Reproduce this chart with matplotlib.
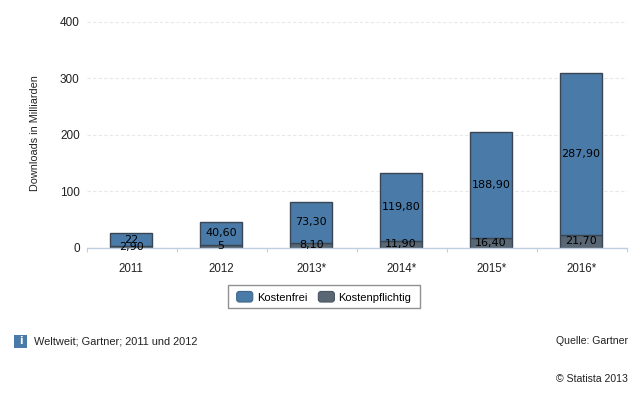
import numpy as np
import matplotlib
matplotlib.use("Agg")
import matplotlib.pyplot as plt
from matplotlib.legend_handler import HandlerPatch
from matplotlib.patches import FancyBboxPatch, Patch, Rectangle

years = ["2011", "2012", "2013*", "2014*", "2015*", "2016*"]
kostenfrei = [22, 40.6, 73.3, 119.8, 188.9, 287.9]
kostenpflichtig = [2.9, 5, 8.1, 11.9, 16.4, 21.7]
free_labels = ["22", "40,60", "73,30", "119,80", "188,90", "287,90"]
paid_labels = ["2,90", "5", "8,10", "11,90", "16,40", "21,70"]
y_ticks = [0, 100, 200, 300, 400]

W, H = 640, 400
TEXT = "#222222"
BLUE = "#4a7aa7"
GREY = "#596673"
plt.rcParams["font.family"] = ["Liberation Sans", "DejaVu Sans"]
plt.rcParams["font.size"] = 8


class RoundedHandle(HandlerPatch):
    """Legend swatch with rounded corners."""

    def create_artists(self, legend, orig_handle, xdescent, ydescent, width, height, fontsize, trans):
        box = FancyBboxPatch((-xdescent + 1, -ydescent + 1), width - 2, height - 2,
                             boxstyle="round,pad=1,rounding_size=2",
                             facecolor=orig_handle.get_facecolor(),
                             edgecolor=orig_handle.get_edgecolor(), linewidth=0.8)
        box.set_transform(trans)
        return [box]


fig = plt.figure(figsize=(W / 100, H / 100), dpi=100, facecolor="white")
ax = fig.add_axes([87 / W, 1 - 247.5 / H, 540 / W, 226 / H])

x = np.arange(len(years))
edge = "#3a4654"
paid = ax.bar(x, kostenpflichtig, width=0.466, color=GREY, edgecolor=edge, linewidth=1, zorder=3)
free = ax.bar(x, kostenfrei, width=0.466, bottom=kostenpflichtig, color=BLUE,
              edgecolor=edge, linewidth=1, zorder=3)

# labels sit in the segment centre, small segments overlap on purpose
for bars, labels in ((free, free_labels), (paid, paid_labels)):
    ax.bar_label(bars, labels=labels, label_type="center", family="DejaVu Sans",
                 fontsize=8, color="black", zorder=5)

# bars sit about a pixel left of the cell centre in the original
ax.set_xlim(-0.49, 5.51)
ax.set_ylim(0, 400)
ax.set_xticks(x)
ax.set_xticklabels(years, color=TEXT, fontsize=8.3)
ax.set_xticks(np.arange(-0.49, 6, 1), minor=True)
ax.tick_params(axis="x", which="major", length=0, pad=11.5)
ax.tick_params(axis="x", which="minor", length=3, width=0.8, color="#c0d0e0")
ax.set_yticks(y_ticks)
ax.tick_params(axis="y", length=0, pad=5.2, labelcolor=TEXT, labelsize=8.5)
ax.grid(axis="y", color="#e8e8e8", linewidth=0.8, linestyle=(0, (3, 2)), zorder=0)
ax.set_axisbelow(True)
ax.set_ylabel("Downloads in Milliarden", color=TEXT, fontsize=7.8)
ax.yaxis.set_label_coords((40 - 87) / 540, (247.5 - 133) / 226)
for name in ("top", "right", "left"):
    ax.spines[name].set_visible(False)
ax.spines["bottom"].set_color("#c0d0e0")
ax.spines["bottom"].set_linewidth(1)
ax.spines["bottom"].set_zorder(4)

# frame drawn apart from the legend: its padding differs in width and height
fig.add_artist(Rectangle((228 / W, 1 - 308 / H), 192 / W, 23 / H, transform=fig.transFigure,
                         facecolor="white", edgecolor="#909090", linewidth=1))
handles = [Patch(facecolor=BLUE, edgecolor="#41678c"), Patch(facecolor=GREY, edgecolor="#4c5763")]
leg = fig.legend(handles, ["Kostenfrei", "Kostenpflichtig"], ncol=2,
                 loc="center", bbox_to_anchor=(324 / W, 1 - 297 / H), frameon=False,
                 fontsize=8.05, handlelength=1.44, handleheight=1.08,
                 handletextpad=0.36, columnspacing=1.0, borderpad=0,
                 handler_map={Patch: RoundedHandle()})

# info marker next to the note
fig.add_artist(Rectangle((14 / W, 1 - 348 / H), 13 / W, 13 / H, transform=fig.transFigure,
                         facecolor=BLUE, edgecolor="none"))
fig.text(20.5 / W, 1 - 341.5 / H, "i", color="white", ha="center", va="center",
         family="DejaVu Sans", fontsize=7, fontweight="bold")
fig.text(34 / W, 1 - 341 / H, "Weltweit; Gartner; 2011 und 2012", color=TEXT,
         ha="left", va="center", fontsize=7.95)
fig.text(628 / W, 1 - 341 / H, "Quelle: Gartner", color=TEXT, ha="right", va="center", fontsize=7.6)
fig.text(628 / W, 1 - 379 / H, "© Statista 2013", color=TEXT, ha="right", va="center", fontsize=7.6)

fig.savefig("out.png", dpi=100)
